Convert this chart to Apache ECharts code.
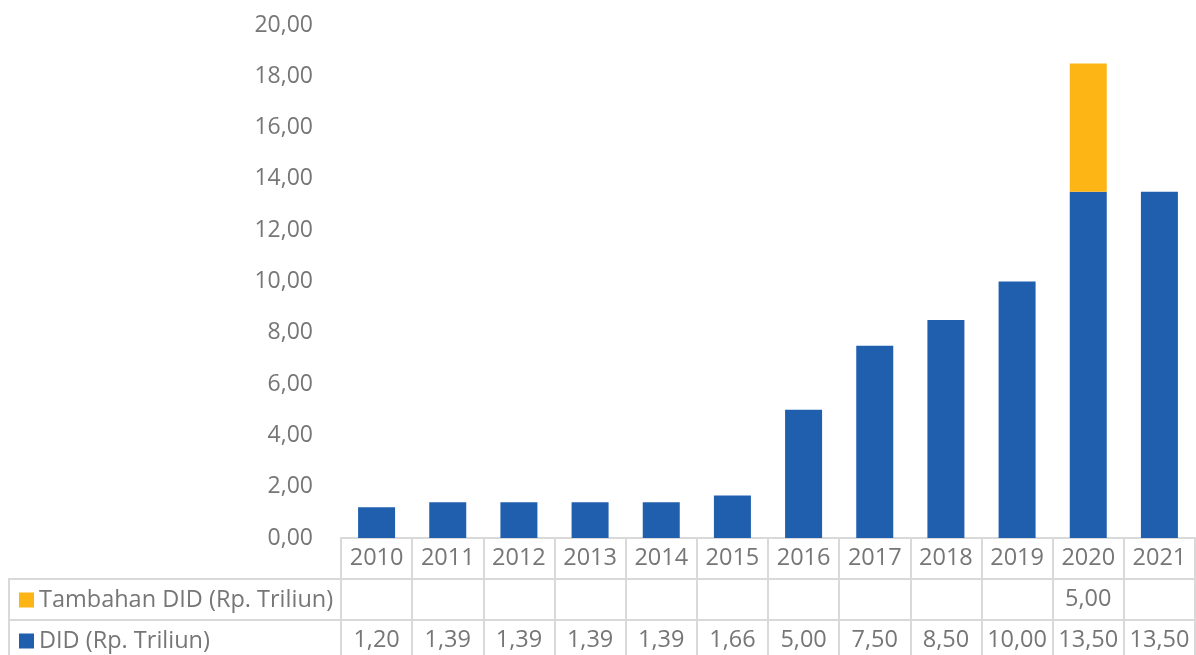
<!DOCTYPE html>
<html>
<head>
<meta charset="utf-8">
<script src="https://cdn.jsdelivr.net/npm/echarts@6/dist/echarts.min.js"></script>
<style>
  html, body { margin: 0; padding: 0; background: #fff; }
  #chart { width: 1196px; height: 655px; }
</style>
</head>
<body>
<div id="chart"></div>
<script>
// data
var years = ['2010', '2011', '2012', '2013', '2014', '2015', '2016', '2017', '2018', '2019', '2020', '2021'];
var didValues = [1.20, 1.39, 1.39, 1.39, 1.39, 1.66, 5.00, 7.50, 8.50, 10.00, 13.50, 13.50];
var tambahanValues = [null, null, null, null, null, null, null, null, null, null, 5.00, null];
var seriesNames = ['Tambahan DID (Rp. Triliun)', 'DID (Rp. Triliun)'];

var fmt = function (v) {
    if (v === null || v === undefined) return '';
    return v.toFixed(2).replace('.', ',');
};

var textColor = '#767676';
var lineColor = '#d9d9d9';
var fontFamily = '"Open Sans", sans-serif';
var fontSize = 23.5;

var chart = echarts.init(document.getElementById('chart'));

chart.setOption({
    animation: false,
    textStyle: { fontFamily: fontFamily },
    grid: {
        left: 341,
        right: 1,
        top: 25,
        bottom: 117
    },
    legend: {
        orient: 'vertical',
        left: 19,
        top: 588,
        padding: 0,
        itemGap: 17,
        itemWidth: 15,
        itemHeight: 15,
        icon: 'rect',
        data: seriesNames,
        textStyle: { color: textColor, fontSize: fontSize, lineHeight: 24, fontFamily: fontFamily }
    },
    yAxis: {
        type: 'value',
        min: 0,
        max: 20,
        interval: 2,
        axisLine: { show: false },
        axisTick: { show: false },
        splitLine: { show: false },
        axisLabel: {
            margin: 28,
            color: textColor,
            fontSize: 23,
            fontFamily: fontFamily,
            formatter: function (v) { return fmt(v); }
        }
    },
    xAxis: [{
        type: 'category',
        data: years,
        position: 'bottom',
        axisLine: { lineStyle: { color: lineColor, width: 2 } },
        axisTick: {
            show: true,
            interval: 0,
            length: 125,
            lineStyle: { color: lineColor, width: 2 }
        },
        axisLabel: {
            margin: 8,
            color: textColor,
            fontSize: fontSize,
            fontFamily: fontFamily,
            interval: 0
        }
    }, {
        type: 'category',
        data: years,
        position: 'bottom',
        offset: 42,
        axisLine: { show: false },
        axisTick: { show: false },
        axisLabel: {
            margin: 7,
            color: textColor,
            fontSize: fontSize,
            fontFamily: fontFamily,
            interval: 0,
            formatter: function (v, i) { return fmt(tambahanValues[i]); }
        }
    }, {
        type: 'category',
        data: years,
        position: 'bottom',
        offset: 83,
        axisLine: { show: false },
        axisTick: { show: false },
        axisLabel: {
            margin: 7,
            color: textColor,
            fontSize: fontSize,
            fontFamily: fontFamily,
            interval: 0,
            formatter: function (v, i) { return fmt(didValues[i]); }
        }
    }],
    graphic: [
        // table borders
        { type: 'line', shape: { x1: 8, y1: 579, x2: 1196, y2: 579 }, style: { stroke: lineColor, lineWidth: 2 } },
        { type: 'line', shape: { x1: 8, y1: 620, x2: 1196, y2: 620 }, style: { stroke: lineColor, lineWidth: 2 } },
        { type: 'line', shape: { x1: 9, y1: 579, x2: 9, y2: 655 }, style: { stroke: lineColor, lineWidth: 2 } }
    ],
    series: [{
        name: seriesNames[1],
        type: 'bar',
        stack: 'total',
        barWidth: 37,
        itemStyle: { color: '#1F5FAE' },
        data: didValues
    }, {
        name: seriesNames[0],
        type: 'bar',
        stack: 'total',
        barWidth: 37,
        itemStyle: { color: '#FCB515' },
        data: tambahanValues
    }]
});
</script>
</body>
</html>
